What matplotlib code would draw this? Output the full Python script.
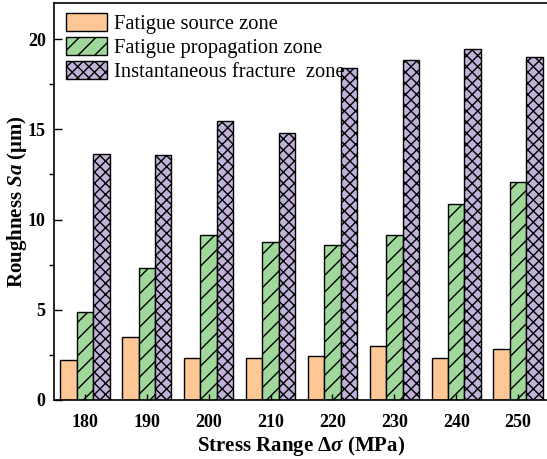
import numpy as np
import matplotlib.pyplot as plt
from matplotlib.ticker import MultipleLocator

plt.rcParams['font.family'] = ['Liberation Serif', 'DejaVu Serif']
plt.rcParams['mathtext.fontset'] = 'custom'
plt.rcParams['mathtext.it'] = 'Liberation Serif:italic:bold'
plt.rcParams['mathtext.rm'] = 'Liberation Serif:bold'
plt.rcParams['hatch.linewidth'] = 1.0

# Roughness Sa (um) for each stress range
stress_range = ['180', '190', '200', '210', '220', '230', '240', '250']
source_zone = [2.21, 3.51, 2.32, 2.34, 2.46, 2.98, 2.32, 2.83]
propagation_zone = [4.86, 7.31, 9.12, 8.78, 8.60, 9.17, 10.85, 12.07]
fracture_zone = [13.62, 13.56, 15.46, 14.81, 18.41, 18.82, 19.46, 19.00]

series = [
    ('Fatigue source zone', source_zone, '#FDC896', ''),
    ('Fatigue propagation zone', propagation_zone, '#A0D89C', '//'),
    ('Instantaneous fracture  zone', fracture_zone, '#BFB1D8', 'xxx'),
]

fig = plt.figure(figsize=(5.47, 4.59), dpi=100)
ax = fig.add_axes([54 / 547, 1 - 400 / 459, 495 / 547, 397 / 459])

x = np.arange(len(stress_range))
width = 0.265
for i, (name, vals, color, hatch) in enumerate(series):
    ax.bar(x + (i - 1) * width, vals, width, color=color, edgecolor='black',
           linewidth=1.0, hatch=hatch, label=name)

ax.set_xlim(-0.5, 7.5)
ax.set_ylim(0, 22)
ax.set_xticks(x)
ax.set_xticklabels(stress_range)
ax.yaxis.set_major_locator(MultipleLocator(5))
ax.yaxis.set_minor_locator(MultipleLocator(2.5))
ax.tick_params(axis='both', direction='in', labelsize=13, width=1.0)
ax.tick_params(axis='x', length=4, pad=10)
ax.tick_params(axis='y', which='major', length=6, pad=6)
ax.tick_params(axis='y', which='minor', length=3.5, width=1.0)
for lab in ax.get_xticklabels() + ax.get_yticklabels():
    lab.set_fontweight('bold')
for s in ax.spines.values():
    s.set_linewidth(1.2)

ax.set_xlabel(r'Stress Range $\Delta\sigma$ (MPa)', fontsize=15, fontweight='bold', labelpad=2)
ax.set_ylabel(r'Roughness $Sa$ ($\mathrm{\mu}$m)', fontsize=15, fontweight='bold', labelpad=-1)

ax.legend(loc='upper left', frameon=False, fontsize=14.8, handlelength=2.0,
          handleheight=0.95, labelspacing=0.15, handletextpad=0.3,
          borderaxespad=0.1, bbox_to_anchor=(0.004, 1.0))

fig.savefig('out.png', dpi=100)
